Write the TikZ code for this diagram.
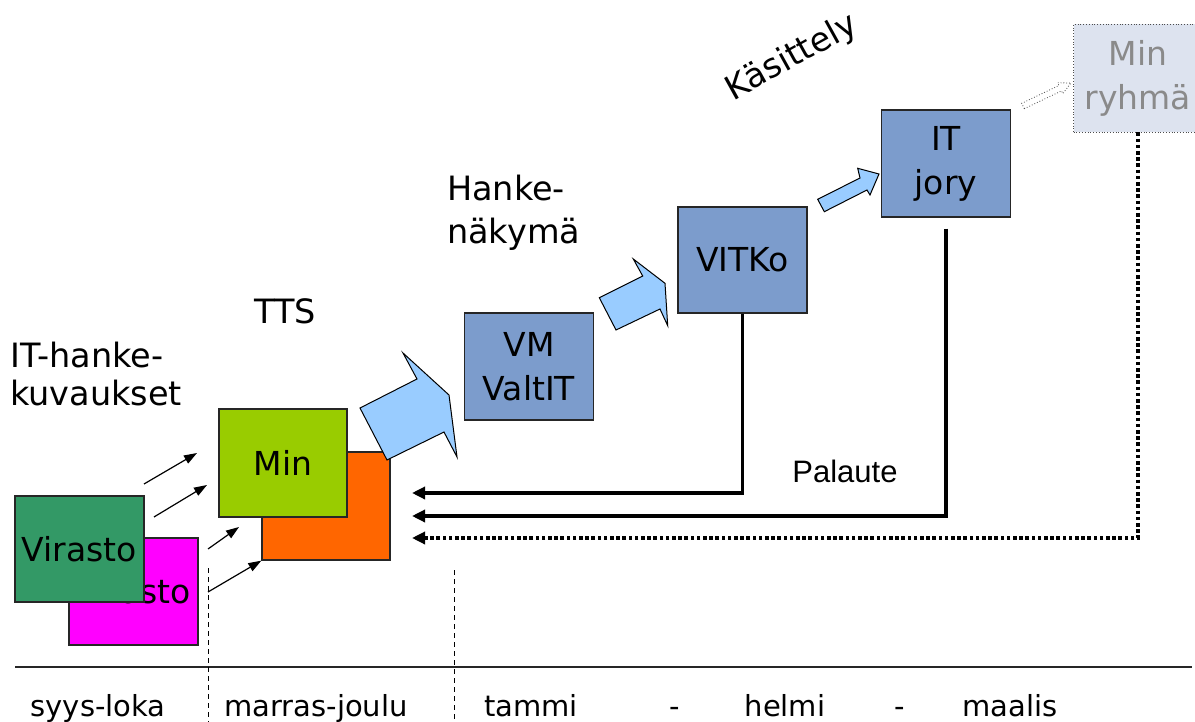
\documentclass[tikz,border=0pt]{standalone}
\usepackage{fontspec}
\setmainfont{DejaVu Sans}
\newfontfamily\arialf{Liberation Sans}
\usetikzlibrary{arrows.meta}
\definecolor{dkgreen}{HTML}{339966}
\definecolor{magen}{HTML}{FF00FF}
\definecolor{lime}{HTML}{99CC00}
\definecolor{orng}{HTML}{FF6600}
\definecolor{boxblue}{HTML}{7C9CCC}
\definecolor{arrblue}{HTML}{99CCFF}
\definecolor{paleblue}{HTML}{DDE3EF}
\definecolor{txtgray}{HTML}{8A8A8A}
\tikzset{
  txt/.style={font=\fontsize{33.5}{40}\selectfont, inner sep=0pt, align=center},
  month/.style={font=\fontsize{29}{34}\selectfont, inner sep=0pt, anchor=base},
  box/.style={draw=black!85, line width=1.3pt, minimum width=129pt, minimum height=107pt, inner sep=0pt, align=center, font=\fontsize{33}{44}\selectfont},
  blockarrow/.style={draw=black, line width=1pt, fill=arrblue, line join=miter},
  feed/.style={line width=3.6pt, -{Triangle[length=13pt,width=12pt]}},
  small/.style={line width=1.2pt, -{Triangle[length=13pt,width=9pt]}},
  sep/.style={line width=1pt, dash pattern=on 5pt off 4pt},
}
\begin{document}
\begin{tikzpicture}[x=1pt,y=-1pt]
\useasboundingbox (0,0) rectangle (1195,722);
% axis
\coordinate (axL) at (15,667);
\coordinate (axR) at (1192,667);
\draw[line width=1.3pt, black!85] (axL) -- (axR);
\coordinate (s1t) at (208,568); \coordinate (s1b) at (208,722);
\coordinate (s2t) at (454,570); \coordinate (s2b) at (454,722);
\draw[sep] (s1t) -- (s1b);
\draw[sep] (s2t) -- (s2b);
% month labels
\node[month] (m1) at (98,716) {syys-loka};
\node[month] (m2) at (316,716) {marras-joulu};
\node[month] (m3) at (531,716) {tammi};
\node[month] (m4) at (675,716) {-};
\node[month] (m5) at (785,716) {helmi};
\node[month] (m6) at (900,716) {-};
\node[month] (m7) at (1010,716) {maalis};
% boxes
\node[box, fill=magen, minimum height=107pt] (vir2) at (133.5,591.5) {\raisebox{-8pt}{Virasto}};
\node[box, fill=dkgreen, minimum height=106pt] (vir1) at (79.5,549) {\raisebox{-2pt}{Virasto}};
\node[box, fill=orng, minimum width=128pt, minimum height=108pt] (minO) at (326,506) {};
\node[box, fill=lime, minimum width=128pt, minimum height=108pt] (min) at (283,463) {Min};
\node[box, fill=boxblue] (vm) at (529,366.5) {VM\\ValtIT};
\node[box, fill=boxblue, minimum height=106pt] (vitko) at (742.5,260) {VITKo};
\node[box, fill=boxblue] (itj) at (946,163.5) {IT\\jory};
\node[box, fill=paleblue, draw=black!70, line width=0.8pt, dotted, minimum height=108pt, text=txtgray] (minr) at (1138,78) {Min\\ryhmä};
% small arrows into Min
\coordinate (a1s) at (144,484); \coordinate (a1e) at (197,453);
\coordinate (a2s) at (154,517); \coordinate (a2e) at (207,485);
\coordinate (a3s) at (208,549); \coordinate (a3e) at (239,527);
\coordinate (a4s) at (208,592);
\draw[small] (a1s) -- (a1e);
\draw[small] (a2s) -- (a2e);
\draw[small] (a3s) -- (a3e);
\draw[small] (a4s) -- (minO.south west);
% block arrows
\draw[blockarrow] (360,408) -- (417,379) -- (403,353) -- (449,395) -- (457,457) -- (444,432) -- (387,460) -- cycle;
\draw[blockarrow] (599.3,297.7) -- (642.7,276) -- (633.3,259) -- (665,283.3) -- (667.7,325.7) -- (660,309) -- (616,330) -- cycle;
\draw[blockarrow] (817.7,199.3) -- (860,178) -- (857.7,168.3) -- (879,174) -- (870,195) -- (867,190) -- (824.3,211.7) -- cycle;
\draw[black!70, line width=0.8pt, dotted, fill=white] (1024.3,108.7) -- (1061.5,90.9) -- (1062.8,93.6) -- (1071,83) -- (1057.6,82.8) -- (1058.9,85.5) -- (1021.7,103.3) -- cycle;
% feedback
\coordinate (f1) at (412,493);
\coordinate (f2) at (412,516);
\coordinate (f3) at (412,538);
\draw[feed] (vitko.south) |- (f1);
\draw[feed, shorten <=11pt] (itj.south) |- (f2);
\draw[feed, dash pattern=on 3.6pt off 2.6pt] (minr.south) |- (f3);
% labels
\node[txt, align=left, anchor=west, font=\fontsize{33.5}{38}\selectfont] (ithk) at (10,374) {IT-hanke-\\kuvaukset};
\node[txt] (tts) at (285,311) {TTS};
\node[txt, align=left, anchor=west, font=\fontsize{33.5}{43}\selectfont] (hn) at (447,213) {Hanke-\\näkymä};
\node[txt, rotate=29] (kas) at (792,58) {Käsittely};
\node[inner sep=0pt, font=\arialf\fontsize{31}{36}\selectfont] (pal) at (845,471) {Palaute};
\end{tikzpicture}
\end{document}
